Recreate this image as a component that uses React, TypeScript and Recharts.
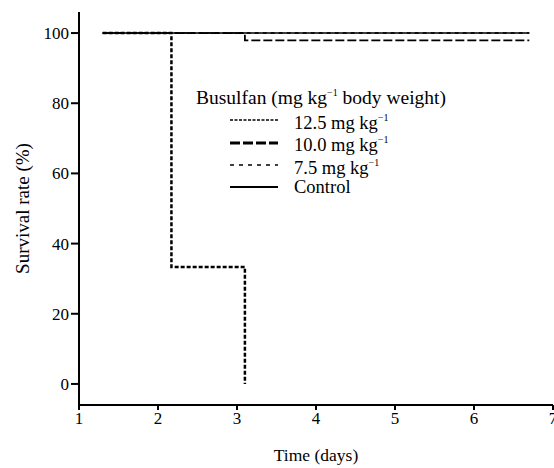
import React from 'react'
import { LineChart, Line, XAxis, YAxis, Label } from 'recharts'

// survival curves (step functions)
const dose125Days = [1.3, 2.17, 3.1]
const dose125Rates = [100, 33.3, 0]
const dose100Days = [1.3, 3.1, 6.7]
const dose100Rates = [100, 97.9, 97.9]
const dose75Days = [1.3, 6.7]
const dose75Rates = [100, 100]
const controlDays = [1.3, 6.7]
const controlRates = [100, 100]

const xTicks = [1, 2, 3, 4, 5, 6, 7]
const yTicks = [0, 20, 40, 60, 80, 100]

const FONT = "'Liberation Serif', 'Times New Roman', serif"

const toPoints = (days: number[], rates: number[]) =>
  days.map((d, i) => ({ day: d, rate: rates[i] }))

const series = [
  { key: 'd125', dose: '12.5', data: toPoints(dose125Days, dose125Rates), dash: '4 2', width: 2.5, legendWidth: 1.6, legendDash: '3 1.5' },
  { key: 'd100', dose: '10.0', data: toPoints(dose100Days, dose100Rates), dash: '9 3', width: 1.8, legendWidth: 3, legendDash: '10 3' },
  { key: 'd75', dose: '7.5', data: toPoints(dose75Days, dose75Rates), dash: '4 4', width: 1.6, legendWidth: 1.5, legendDash: '4 5' },
  { key: 'ctrl', dose: null, data: toPoints(controlDays, controlRates), dash: undefined, width: 1.6, legendWidth: 1.8, legendDash: undefined },
]

const rowCenters = [120, 142.5, 165, 187]

function LegendBox() {
  const sup = { fontSize: 10, verticalAlign: 8 }
  return (
    <div style={{ position: 'absolute', left: 0, top: 0, fontFamily: FONT, color: '#000' }}>
      <div
        style={{
          position: 'absolute',
          left: 196,
          top: 82,
          fontSize: 19.5,
          lineHeight: '22px',
          whiteSpace: 'nowrap',
        }}
      >
        Busulfan (mg kg<sup style={sup}>&minus;1</sup> body weight)
      </div>
      {series.map((s, i) => (
        <div
          key={s.key}
          style={{
            position: 'absolute',
            left: 230,
            top: rowCenters[i] - 11,
            height: 22,
            display: 'flex',
            alignItems: 'center',
            fontSize: 18.5,
            lineHeight: '22px',
            whiteSpace: 'nowrap',
          }}
        >
          <svg width={48} height={10} style={{ marginRight: 16 }}>
            <line
              x1={0}
              y1={5}
              x2={48}
              y2={5}
              stroke="#000"
              strokeWidth={s.legendWidth}
              strokeDasharray={s.legendDash}
            />
          </svg>
          {s.dose ? (
            <span>
              {s.dose} mg kg<sup style={sup}>&minus;1</sup>
            </span>
          ) : (
            <span>Control</span>
          )}
        </div>
      ))}
    </div>
  )
}

export default function App() {
  return (
    <div
      style={{
        position: 'absolute',
        left: 0,
        top: 0,
        width: 554,
        height: 468,
        overflow: 'hidden',
        background: '#fff',
      }}
    >
      <LineChart
        width={574}
        height={468}
        margin={{ top: 12, right: 21, bottom: 0, left: 0 }}
      >
        <XAxis
          dataKey="day"
          type="number"
          domain={[1, 7]}
          ticks={xTicks}
          allowDuplicatedCategory={false}
          height={63}
          axisLine={{ stroke: '#000', strokeWidth: 2 }}
          tickLine={{ stroke: '#000', strokeWidth: 2 }}
          tickSize={5}
          tick={{ fill: '#000', fontSize: 17, fontFamily: FONT }}
        >
          <Label
            value="Time (days)"
            position="insideBottom"
            offset={7}
            style={{ fill: '#000', fontSize: 17.5, fontFamily: FONT }}
          />
        </XAxis>
        <YAxis
          dataKey="rate"
          type="number"
          domain={[-6, 106]}
          ticks={yTicks}
          width={79}
          axisLine={{ stroke: '#000', strokeWidth: 2 }}
          tickLine={{ stroke: '#000', strokeWidth: 2 }}
          tickSize={8}
          tick={{ fill: '#000', fontSize: 17, fontFamily: FONT }}
        >
          <Label
            value="Survival rate (%)"
            angle={-90}
            position="insideLeft"
            offset={22}
            style={{ fill: '#000', fontSize: 19, fontFamily: FONT, textAnchor: 'middle' }}
          />
        </YAxis>
        {series.map((s) => (
          <Line
            key={s.key}
            data={s.data}
            dataKey="rate"
            type="stepAfter"
            stroke="#000"
            strokeWidth={s.width}
            strokeDasharray={s.dash}
            dot={false}
            activeDot={false}
            isAnimationActive={false}
          />
        ))}
      </LineChart>
      <LegendBox />
    </div>
  )
}
